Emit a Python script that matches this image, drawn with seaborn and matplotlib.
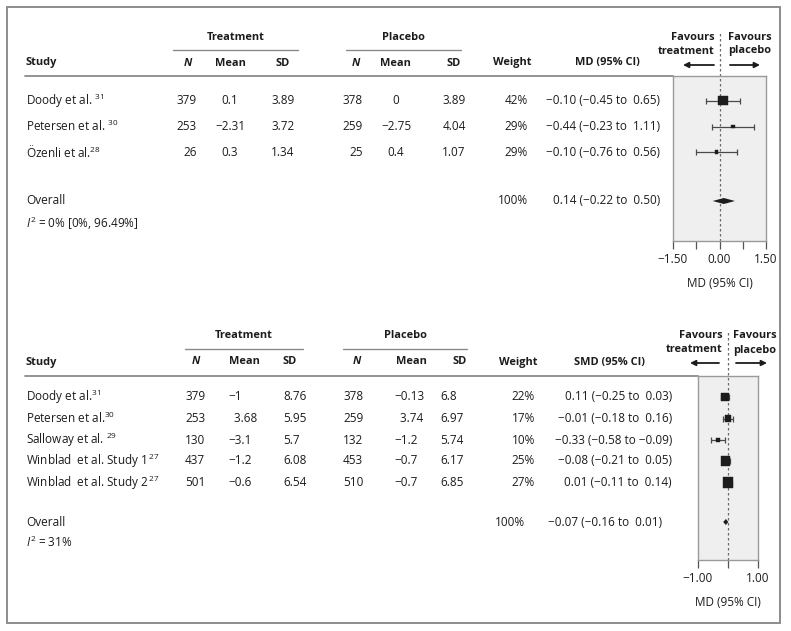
import matplotlib
matplotlib.use("Agg")
import matplotlib.pyplot as plt
import matplotlib.patches as patches
import seaborn as sns
import pandas as pd

# =====================================================
# Data - top panel (MD)
# =====================================================
top_studies = ["Doody et al. $^{31}$", "Petersen et al. $^{30}$", "Özenli et al.$^{28}$"]
top_n_t = [379, 253, 26]
top_mean_t = [0.1, -2.31, 0.3]
top_sd_t = [3.89, 3.72, 1.34]
top_n_p = [378, 259, 25]
top_mean_p = [0, -2.75, 0.4]
top_sd_p = [3.89, 4.04, 1.07]
top_weight = [42, 29, 29]
top_est = [0.10, 0.44, -0.10]
top_lo = [-0.45, -0.23, -0.76]
top_hi = [0.65, 1.11, 0.56]
top_ci_text = ["−0.10 (−0.45 to  0.65)", "−0.44 (−0.23 to  1.11)", "−0.10 (−0.76 to  0.56)"]
top_overall = [0.14, -0.22, 0.50]
top_overall_text = "0.14 (−0.22 to  0.50)"
top_i2 = "$I^2$ = 0% [0%, 96.49%]"

# =====================================================
# Data - bottom panel (SMD)
# =====================================================
bot_studies = ["Doody et al.$^{31}$", "Petersen et al.$^{30}$", "Salloway et al. $^{29}$",
               "Winblad  et al. Study 1$^{\\,27}$", "Winblad  et al. Study 2$^{\\,27}$"]
bot_n_t = [379, 253, 130, 437, 501]
bot_mean_t = [-1, 3.68, -3.1, -1.2, -0.6]
bot_sd_t = [8.76, 5.95, 5.7, 6.08, 6.54]
bot_n_p = [378, 259, 132, 453, 510]
bot_mean_p = [-0.13, 3.74, -1.2, -0.7, -0.7]
bot_sd_p = [6.8, 6.97, 5.74, 6.17, 6.85]
bot_weight = [22, 17, 10, 25, 27]
bot_est = [-0.11, -0.01, -0.33, -0.08, 0.01]
bot_lo = [-0.25, -0.18, -0.58, -0.21, -0.11]
bot_hi = [0.03, 0.16, -0.09, 0.05, 0.14]
bot_ci_text = ["0.11 (−0.25 to  0.03)", "−0.01 (−0.18 to  0.16)", "−0.33 (−0.58 to −0.09)",
               "−0.08 (−0.21 to  0.05)", "0.01 (−0.11 to  0.14)"]
bot_overall = [-0.07, -0.16, 0.01]
bot_overall_text = "−0.07 (−0.16 to  0.01)"
bot_i2 = "$I^2$ = 31%"

# =====================================================
# Style
# =====================================================
sns.set_theme(style="white")
plt.rcParams["font.family"] = ["Open Sans", "DejaVu Sans"]
plt.rcParams["mathtext.fontset"] = "custom"
plt.rcParams["mathtext.rm"] = "Open Sans"
plt.rcParams["mathtext.it"] = "Open Sans:italic"
plt.rcParams["mathtext.bf"] = "Open Sans:bold"

W, H = 791, 631
TXT = "#1e1b1c"
RULE = "#8a8a8a"
FS = 8.5     # regular text
FSB = 7.9    # bold headers


def fmt(v, pad=False):
    s = f"{v:g}".replace("-", "−")
    if pad and v >= 0:
        s = "  " + s
    return s


fig = plt.figure(figsize=(W / 100, H / 100), dpi=100)
bg = fig.add_axes([0, 0, 1, 1])
bg.set_xlim(0, W)
bg.set_ylim(H, 0)
bg.axis("off")

bg.add_patch(patches.Rectangle((7, 7), 773, 616, fill=False, ec="#8c8c8c", lw=1.4))


def txt(x, y, s, ha="left", bold=False, italic=False):
    bg.text(x, y, s, ha=ha, va="center", fontsize=FSB if bold else FS, color=TXT,
            fontweight="bold" if bold else "normal",
            fontstyle="italic" if italic else "normal")


def arrow(x_from, x_to, y):
    bg.annotate("", xy=(x_to, y), xytext=(x_from, y),
                arrowprops=dict(arrowstyle="-|>", color=TXT, lw=1.3,
                                mutation_scale=8, shrinkA=0, shrinkB=0))


def forest(box, rows_y, est, lo, hi, weight, overall, overall_y, size_fn,
           xlim, ticks, ticklabels, dash_top, ci_color):
    x0, y0, x1, y1 = box
    ax = fig.add_axes([x0 / W, 1 - y1 / H, (x1 - x0) / W, (y1 - y0) / H])
    ax.set_xlim(*xlim)
    ax.set_ylim(y1, y0)
    ax.set_facecolor("#efefef")
    for sp in ax.spines.values():
        sp.set_visible(True)
        sp.set_color("#9a9a9a")
        sp.set_linewidth(1.0)

    df = pd.DataFrame({"est": est, "lo": lo, "hi": hi, "y": rows_y, "w": weight})
    ax.errorbar(df["est"], df["y"], xerr=[df["est"] - df["lo"], df["hi"] - df["est"]],
                fmt="none", ecolor=ci_color, elinewidth=0.9, capsize=2, capthick=0.9, zorder=2)
    sizes = [(size_fn(w) * 0.72) ** 2 for w in weight]
    sns.scatterplot(data=df, x="est", y="y", marker="s", s=sizes, color="#1c1c1c",
                    edgecolor="#1c1c1c", linewidth=0.3, legend=False, ax=ax, zorder=3)

    e, l, h = overall
    ax.fill([l, e, h, e], [overall_y, overall_y - 3, overall_y, overall_y + 3],
            color="#1c1c1c", lw=0, zorder=3)

    ax.axvline(0, ymin=0, ymax=(y1 - dash_top) / (y1 - y0), clip_on=False,
               color="#6a6a6a", lw=0.9, ls=(0, (2, 2)), zorder=1)

    ax.set_yticks([])
    ax.set_ylabel("")
    ax.set_xticks(ticks)
    ax.set_xticklabels(ticklabels)
    ax.tick_params(axis="x", bottom=True, direction="out", length=5.8, width=0.9,
                   color="#555555", labelsize=FS, labelcolor=TXT, pad=2.5)
    ax.set_xlabel("MD (95% CI)", fontsize=FS, color=TXT, labelpad=8)
    return ax


# =====================================================
# Top panel
# =====================================================
txt(236, 37, "Treatment", ha="center", bold=True)
txt(403, 37, "Placebo", ha="center", bold=True)
bg.plot([173, 298], [49.5, 49.5], color=RULE, lw=1.0)
bg.plot([346, 461], [49.5, 49.5], color=RULE, lw=1.0)

txt(26, 63, "Study", bold=True)
txt(188, 63, "N", ha="center", bold=True, italic=True)
txt(230, 63, "Mean", ha="center", bold=True)
txt(283, 63, "SD", ha="center", bold=True)
txt(356, 63, "N", ha="center", bold=True, italic=True)
txt(395, 63, "Mean", ha="center", bold=True)
txt(454, 63, "SD", ha="center", bold=True)
txt(512, 63, "Weight", ha="center", bold=True)
txt(607, 63, "MD (95% CI)", ha="center", bold=True)
bg.plot([25, 673], [75.5, 75.5], color=RULE, lw=1.3)

top_rows_y = [100.5, 126.5, 152]
for i, y in enumerate(top_rows_y):
    txt(26, y, top_studies[i])
    txt(197, y, fmt(top_n_t[i]), ha="right")
    txt(230, y, fmt(top_mean_t[i]), ha="center")
    txt(283, y, fmt(top_sd_t[i]), ha="center")
    txt(363, y, fmt(top_n_p[i]), ha="right")
    txt(396, y, fmt(top_mean_p[i]), ha="center")
    txt(454, y, fmt(top_sd_p[i]), ha="center")
    txt(528, y, f"{top_weight[i]}%", ha="right")
    txt(660, y, top_ci_text[i], ha="right")

txt(26, 201, "Overall")
txt(528, 201, "100%", ha="right")
txt(660, 201, top_overall_text, ha="right")
txt(26, 223, top_i2)

txt(715, 37, "Favours", ha="right", bold=True)
txt(715, 51, "treatment", ha="right", bold=True)
txt(728, 37, "Favours", bold=True)
txt(728, 51, "placebo", bold=True)
arrow(714, 683, 65)
arrow(730, 760, 65)

forest((673, 75.5, 766, 241), top_rows_y, top_est, top_lo, top_hi, top_weight,
       top_overall, 201, lambda w: 0.515 * (w - 22.6),
       (-1.5, 1.5), [-1.5, -0.75, 0, 0.75, 1.5], ["−1.50", "", "0.00", "", "1.50"],
       32, "#4a4a4a")

# =====================================================
# Bottom panel
# =====================================================
txt(244, 336, "Treatment", ha="center", bold=True)
txt(405, 336, "Placebo", ha="center", bold=True)
bg.plot([185, 303], [348.5, 348.5], color=RULE, lw=1.0)
bg.plot([343, 467], [348.5, 348.5], color=RULE, lw=1.0)

txt(26, 362, "Study", bold=True)
txt(196, 362, "N", ha="center", bold=True, italic=True)
txt(244, 362, "Mean", ha="center", bold=True)
txt(290, 362, "SD", ha="center", bold=True)
txt(357, 362, "N", ha="center", bold=True, italic=True)
txt(411, 362, "Mean", ha="center", bold=True)
txt(460, 362, "SD", ha="center", bold=True)
txt(518, 362, "Weight", ha="center", bold=True)
txt(609, 362, "SMD (95% CI)", ha="center", bold=True)
bg.plot([25, 698], [376, 376], color=RULE, lw=1.3)

bot_rows_y = [397, 418.5, 440, 461, 482.5]
for i, y in enumerate(bot_rows_y):
    txt(26, y, bot_studies[i])
    txt(185, y, fmt(bot_n_t[i]))
    txt(228, y, fmt(bot_mean_t[i], pad=True))
    txt(283, y, fmt(bot_sd_t[i]))
    txt(343, y, fmt(bot_n_p[i]))
    txt(394, y, fmt(bot_mean_p[i], pad=True))
    txt(440, y, fmt(bot_sd_p[i]))
    txt(535, y, f"{bot_weight[i]}%", ha="right")
    txt(672, y, bot_ci_text[i], ha="right")

txt(26, 522, "Overall")
txt(525, 522, "100%", ha="right")
txt(662, 522, bot_overall_text, ha="right")
txt(26, 542, bot_i2)

txt(723, 335, "Favours", ha="right", bold=True)
txt(723, 350, "treatment", ha="right", bold=True)
txt(733, 335, "Favours", bold=True)
txt(733, 350, "placebo", bold=True)
arrow(719, 690, 363)
arrow(736, 767, 363)

forest((698, 376, 758, 560), bot_rows_y, bot_est, bot_lo, bot_hi, bot_weight,
       bot_overall, 522, lambda w: 0.394 * (w - 1.6),
       (-1, 1), [-1, 0, 1], ["−1.00", "", "1.00"],
       330, "#4a4a4a")

fig.savefig("out.png", dpi=100)
